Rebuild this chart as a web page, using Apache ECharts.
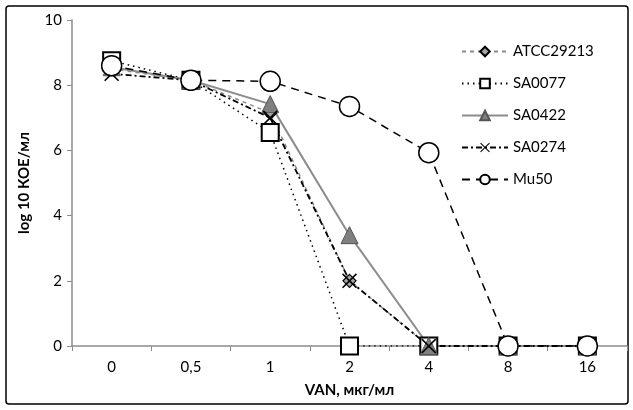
<!DOCTYPE html>
<html>
<head>
<meta charset="utf-8">
<script src="https://cdn.jsdelivr.net/npm/echarts@6/dist/echarts.min.js"></script>
<style>
  html, body { margin: 0; padding: 0; background: #fff; }
  #chart { width: 633px; height: 410px; }
</style>
</head>
<body>
<div id="chart"></div>
<script>
// concentrations (category axis)
const categories = ['0', '0,5', '1', '2', '4', '8', '16'];

// log10 CFU/ml per strain
const atcc29213 = [8.5, 8.15, 7.15, 2.0, 0, 0, 0];
const sa0077 = [8.75, 8.15, 6.55, 0, 0, 0, 0];
const sa0422 = [8.55, 8.15, 7.42, 3.4, 0, 0, 0];
const sa0274 = [8.35, 8.15, 7.0, 2.0, 0, 0, 0];
const mu50 = [8.6, 8.15, 8.12, 7.35, 5.93, 0, 0];

const crossPath = 'path://M0,1.5L1.5,0L10,8.5L18.5,0L20,1.5L11.5,10L20,18.5L18.5,20L10,11.5L1.5,20L0,18.5L8.5,10Z';

const font = 'Lato, "Open Sans", sans-serif';

const chart = echarts.init(document.getElementById('chart'));

chart.setOption({
    animation: false,
    backgroundColor: '#fff',
    textStyle: { fontFamily: font },
    graphic: [{
        type: 'rect',
        shape: { x: 6, y: 6, width: 622, height: 398, r: 3 },
        style: { fill: 'none', stroke: '#000', lineWidth: 1.5 },
        silent: true
    }],
    grid: { left: 72, right: 6, top: 20, bottom: 64 },
    legend: {
        orient: 'vertical',
        left: 456,
        top: 39,
        itemWidth: 46,
        itemHeight: 12,
        itemGap: 17,
        textStyle: { fontSize: 15, color: '#000', fontFamily: font },
        data: ['ATCC29213', 'SA0077', 'SA0422', 'SA0274', 'Mu50']
    },
    xAxis: {
        type: 'category',
        data: categories,
        boundaryGap: true,
        name: 'VAN, мкг/мл',
        nameLocation: 'middle',
        nameGap: 37,
        nameTextStyle: { fontSize: 15, fontWeight: 'bold', color: '#000', fontFamily: font },
        axisLine: { lineStyle: { color: '#8c8c8c', width: 1.5 } },
        axisTick: { show: true, length: 5, lineStyle: { color: '#8c8c8c' } },
        axisLabel: { fontSize: 15, color: '#000', margin: 14 }
    },
    yAxis: {
        type: 'value',
        min: 0,
        max: 10,
        interval: 2,
        name: 'log 10 КОЕ/мл',
        nameLocation: 'middle',
        nameGap: 40,
        nameTextStyle: { fontSize: 15, fontWeight: 'bold', color: '#000', fontFamily: font },
        axisLine: { show: true, lineStyle: { color: '#8c8c8c', width: 1.5 } },
        axisTick: { show: true, length: 5, lineStyle: { color: '#8c8c8c' } },
        axisLabel: { fontSize: 15, color: '#000', margin: 10 },
        splitLine: { show: false }
    },
    series: [
        {
            name: 'ATCC29213',
            type: 'line',
            data: atcc29213,
            symbol: 'diamond',
            symbolSize: 13,
            lineStyle: { color: '#8c8c8c', width: 1.5, type: [4, 4] },
            itemStyle: { color: '#a6a6a6', borderColor: '#000', borderWidth: 1.2 }
        },
        {
            name: 'SA0077',
            type: 'line',
            data: sa0077,
            symbol: 'rect',
            symbolSize: 17,
            lineStyle: { color: '#000', width: 1.5, type: [1.5, 4] },
            itemStyle: { color: '#fff', borderColor: '#000', borderWidth: 2 }
        },
        {
            name: 'SA0422',
            type: 'line',
            data: sa0422,
            symbol: 'triangle',
            symbolSize: 17,
            lineStyle: { color: '#8c8c8c', width: 2, type: 'solid' },
            itemStyle: { color: '#7f7f7f', borderColor: '#555', borderWidth: 1 }
        },
        {
            name: 'SA0274',
            type: 'line',
            data: sa0274,
            symbol: crossPath,
            symbolSize: 15,
            lineStyle: { color: '#000', width: 1.8, type: [6, 3, 2, 3] },
            itemStyle: { color: '#000' }
        },
        {
            name: 'Mu50',
            type: 'line',
            data: mu50,
            symbol: 'circle',
            symbolSize: 20,
            lineStyle: { color: '#000', width: 1.5, type: [8, 6] },
            itemStyle: { color: '#fff', borderColor: '#000', borderWidth: 1.5 }
        }
    ]
});

window.addEventListener('resize', () => chart.resize());
</script>
</body>
</html>
